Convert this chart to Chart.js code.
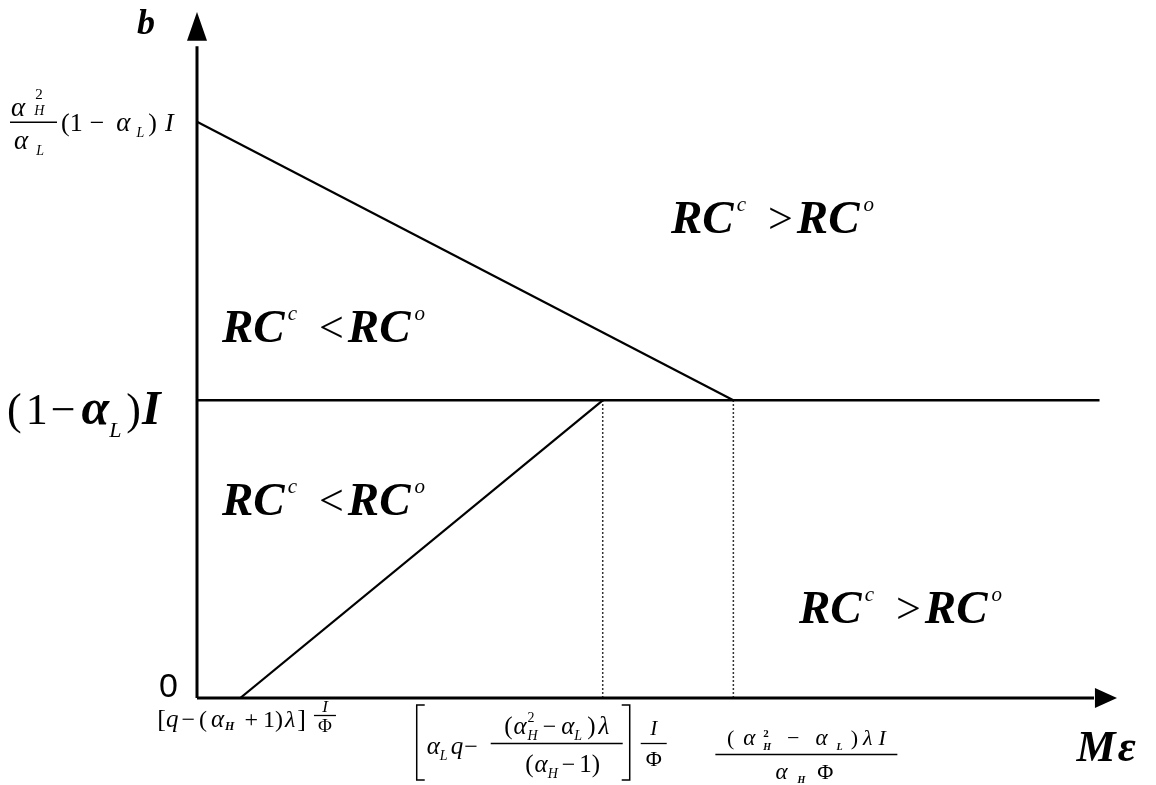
<!DOCTYPE html>
<html>
<head>
<meta charset="utf-8">
<script src="https://cdn.jsdelivr.net/npm/chart.js@4.4.0/dist/chart.umd.min.js"></script>
<style>
  html, body { margin: 0; padding: 0; background: #fff; }
  #wrap { width: 1156px; height: 785px; position: relative; }
</style>
</head>
<body>
<div id="wrap"><canvas id="diagram"></canvas></div>
<script>
// Diagram values (abstract units, x: 0..100, y: 0..100)
const upperLineX = [0, 58.3];     // from top intercept down to the second threshold
const upperLineY = [84, 43.4];
const lowerLineX = [4.7, 44.1];   // from x-intercept up to the first threshold
const lowerLineY = [0, 43.4];
const levelX = [0, 98.1];         // horizontal (1 - aL)I line
const levelY = [43.4, 43.4];
const guideX = [44.1, 58.3];      // dotted drop lines

// where the tick labels sit
const xTickValues = [4.7, 44.1, 58.3];
const yTickValues = [0, 43.4, 84];

const SERIF = '"Liberation Serif", "Times New Roman", serif';

function pts(xs, ys) {
  return xs.map((x, i) => ({ x: x, y: ys[i] }));
}

// draw a run of text pieces: {t, s (size), st (style), dx, dy, gap, hold}
function runText(ctx, x, y, parts, measureOnly) {
  let cx = x;
  for (const p of parts) {
    ctx.font = `${p.st || 'normal'} ${p.s}px ${SERIF}`;
    const w = ctx.measureText(p.t).width;
    const dx = p.dx || 0;
    if (!measureOnly) ctx.fillText(p.t, cx + dx, y + (p.dy || 0));
    if (!p.hold) cx += w + dx + (p.gap || 0);
  }
  return cx - x;
}

function centred(ctx, cx, y, parts) {
  const w = runText(ctx, 0, 0, parts, true);
  runText(ctx, cx - w / 2, y, parts);
}

function bar(ctx, x1, x2, y) {
  ctx.beginPath();
  ctx.moveTo(x1, y + 0.5);
  ctx.lineTo(x2, y + 0.5);
  ctx.lineWidth = 1.3;
  ctx.stroke();
}

function regionLabel(ctx, x, y, op) {
  runText(ctx, x, y, [
    { t: 'RC', s: 47, st: 'bold italic' },
    { t: 'c', s: 21, st: 'italic', dy: -22, gap: 22, dx: 3 },
    { t: op, s: 44 },
    { t: 'RC', s: 47, st: 'bold italic', dx: 4 },
    { t: 'o', s: 21, st: 'italic', dy: -22, dx: 4 }
  ]);
}

const axesAndLabels = {
  id: 'axesAndLabels',
  afterDraw(chart) {
    const ctx = chart.ctx;
    const xs = chart.scales.x, ys = chart.scales.y;
    const x0 = xs.getPixelForValue(0), y0 = ys.getPixelForValue(0);
    ctx.save();
    ctx.strokeStyle = '#000';
    ctx.fillStyle = '#000';

    // axes
    ctx.lineWidth = 3;
    ctx.beginPath();
    ctx.moveTo(x0, y0);
    ctx.lineTo(x0, ys.getPixelForValue(95));
    ctx.moveTo(x0, y0);
    ctx.lineTo(xs.getPixelForValue(97.5), y0);
    ctx.stroke();
    // arrow heads
    const yTip = ys.getPixelForValue(100), yBase = ys.getPixelForValue(95.8);
    ctx.beginPath();
    ctx.moveTo(x0, yTip);
    ctx.lineTo(x0 - 10, yBase);
    ctx.lineTo(x0 + 10, yBase);
    ctx.closePath();
    ctx.fill();
    const xTip = xs.getPixelForValue(100), xBase = xs.getPixelForValue(97.6);
    ctx.beginPath();
    ctx.moveTo(xTip, y0);
    ctx.lineTo(xBase, y0 - 10);
    ctx.lineTo(xBase, y0 + 10);
    ctx.closePath();
    ctx.fill();

    ctx.textBaseline = 'alphabetic';
    ctx.textAlign = 'left';

    // axis titles
    ctx.font = `bold italic 36px ${SERIF}`;
    ctx.fillText('b', x0 - 60, yTip + 22);
    runText(ctx, xs.getPixelForValue(95.6), y0 + 63, [
      { t: 'M', s: 44, st: 'bold italic' },
      { t: '\u03b5', s: 44, st: 'bold italic', dx: 2 }
    ]);

    // y tick labels
    ctx.font = '34px "Liberation Sans", Arial, sans-serif';
    ctx.fillText('0', x0 - 38, ys.getPixelForValue(yTickValues[0]) - 1);

    const yLev = ys.getPixelForValue(yTickValues[1]);
    runText(ctx, 7, yLev + 24, [
      { t: '(', s: 44, gap: 4 },
      { t: '1', s: 44, gap: 3 },
      { t: '\u2212', s: 44, gap: 6 },
      { t: '\u03b1', s: 50, st: 'bold italic' },
      { t: 'L', s: 22, st: 'italic', dy: 13, gap: 5 },
      { t: ')', s: 44, gap: 1 },
      { t: 'I', s: 48, st: 'bold italic' }
    ]);

    const yTop = ys.getPixelForValue(yTickValues[2]);
    runText(ctx, 11, yTop - 6, [
      { t: '\u03b1', s: 27, st: 'italic' },
      { t: '2', s: 15, dy: -17, hold: true, dx: 10 },
      { t: 'H', s: 14, st: 'italic', dy: -1, dx: 9 }
    ]);
    bar(ctx, 10, 57, yTop);
    runText(ctx, 14, yTop + 27, [
      { t: '\u03b1', s: 27, st: 'italic' },
      { t: 'L', s: 14, st: 'italic', dy: 6, dx: 8 }
    ]);
    runText(ctx, 61, yTop + 9, [
      { t: '(1', s: 26, gap: 7 },
      { t: '\u2212', s: 26, gap: 12 },
      { t: '\u03b1', s: 27, st: 'italic' },
      { t: 'L', s: 14, st: 'italic', dy: 6, dx: 6, gap: 4 },
      { t: ')', s: 26, gap: 8 },
      { t: 'I', s: 26, st: 'italic' }
    ]);

    // x tick label 1
    const xa = xs.getPixelForValue(xTickValues[0]);
    const baseA = y0 + 29;
    const wA = runText(ctx, xa - 83, baseA, [
      { t: '[', s: 26 },
      { t: 'q', s: 25, st: 'italic', gap: 3 },
      { t: '\u2212', s: 24, gap: 4 },
      { t: '(', s: 24, gap: 4 },
      { t: '\u03b1', s: 25, st: 'italic' },
      { t: 'H', s: 12, st: 'bold italic', dy: 3, dx: 1, gap: 10 },
      { t: '+', s: 24, gap: 5 },
      { t: '1)', s: 24, gap: 1 },
      { t: '\u03bb', s: 24, st: 'italic', dx: 1, gap: 2 },
      { t: ']', s: 26 }
    ]);
    const fa = xa - 83 + wA + 19;
    centred(ctx, fa, y0 + 14, [{ t: 'I', s: 17, st: 'italic' }]);
    bar(ctx, fa - 11, fa + 11, y0 + 17);
    centred(ctx, fa, y0 + 34, [{ t: '\u03a6', s: 19 }]);

    // x tick label 2 (big brackets)
    const xb = xs.getPixelForValue(xTickValues[1]);
    const lb = xb - 186, rb = xb + 27;
    ctx.lineWidth = 1.5;
    ctx.beginPath();
    ctx.moveTo(lb + 8, y0 + 7); ctx.lineTo(lb, y0 + 7); ctx.lineTo(lb, y0 + 82); ctx.lineTo(lb + 8, y0 + 82);
    ctx.moveTo(rb - 8, y0 + 7); ctx.lineTo(rb, y0 + 7); ctx.lineTo(rb, y0 + 82); ctx.lineTo(rb - 8, y0 + 82);
    ctx.stroke();
    runText(ctx, lb + 10, y0 + 56, [
      { t: '\u03b1', s: 25, st: 'italic' },
      { t: 'L', s: 14, st: 'italic', dy: 6, gap: 2 },
      { t: 'q', s: 25, st: 'italic', dx: 1 },
      { t: '\u2212', s: 24, dx: 1 }
    ]);
    const nb = xb - 46;
    centred(ctx, nb, y0 + 36, [
      { t: '(', s: 25, gap: 1 },
      { t: '\u03b1', s: 25, st: 'italic' },
      { t: '2', s: 14, dy: -12, hold: true, dx: 1 },
      { t: 'H', s: 14, st: 'italic', dy: 6, dx: 1, gap: 5 },
      { t: '\u2212', s: 24, gap: 5 },
      { t: '\u03b1', s: 25, st: 'italic' },
      { t: 'L', s: 14, st: 'italic', dy: 6, gap: 5 },
      { t: ')', s: 25, gap: 3 },
      { t: '\u03bb', s: 25, st: 'italic' }
    ]);
    bar(ctx, nb - 66, nb + 66, y0 + 45);
    centred(ctx, nb + 6, y0 + 74, [
      { t: '(', s: 25, gap: 1 },
      { t: '\u03b1', s: 25, st: 'italic' },
      { t: 'H', s: 14, st: 'italic', dy: 6, gap: 4 },
      { t: '\u2212', s: 24, gap: 4 },
      { t: '1)', s: 25 }
    ]);
    const fb = rb + 24;
    centred(ctx, fb, y0 + 37, [{ t: 'I', s: 21, st: 'italic' }]);
    bar(ctx, fb - 13, fb + 13, y0 + 45);
    centred(ctx, fb, y0 + 68, [{ t: '\u03a6', s: 22 }]);

    // x tick label 3
    const xc = xs.getPixelForValue(xTickValues[2]);
    const cc = xc + 73;
    centred(ctx, cc, y0 + 47, [
      { t: '(', s: 22, gap: 9 },
      { t: '\u03b1', s: 23, st: 'italic', gap: 7 },
      { t: '2', s: 11, st: 'bold', dy: -8, hold: true, dx: 1 },
      { t: 'H', s: 10, st: 'bold italic', dy: 5, dx: 1, gap: 16 },
      { t: '\u2212', s: 22, gap: 16 },
      { t: '\u03b1', s: 23, st: 'italic', gap: 9 },
      { t: 'L', s: 10, st: 'bold italic', dy: 5, gap: 8 },
      { t: ')', s: 22, gap: 5 },
      { t: '\u03bb', s: 22, st: 'italic', gap: 6 },
      { t: 'I', s: 22, st: 'italic' }
    ]);
    bar(ctx, cc - 91, cc + 91, y0 + 56);
    centred(ctx, cc - 2, y0 + 81, [
      { t: '\u03b1', s: 23, st: 'italic', gap: 10 },
      { t: 'H', s: 10, st: 'bold italic', dy: 4, gap: 12 },
      { t: '\u03a6', s: 22 }
    ]);

    // region labels
    regionLabel(ctx, 671, 233, '>');
    regionLabel(ctx, 222, 342, '<');
    regionLabel(ctx, 222, 515, '<');
    regionLabel(ctx, 799, 623, '>');

    ctx.restore();
  }
};

new Chart(document.getElementById('diagram').getContext('2d'), {
  type: 'scatter',
  data: {
    datasets: [
      {
        data: pts(upperLineX, upperLineY),
        showLine: true, borderColor: '#000', borderWidth: 2.2, pointRadius: 0
      },
      {
        data: pts(levelX, levelY),
        showLine: true, borderColor: '#000', borderWidth: 2.4, pointRadius: 0
      },
      {
        data: pts(lowerLineX, lowerLineY),
        showLine: true, borderColor: '#000', borderWidth: 2.2, pointRadius: 0
      },
      {
        data: pts([guideX[0], guideX[0]], [0, levelY[0]]),
        showLine: true, borderColor: '#333', borderWidth: 1.5, borderDash: [2, 2], pointRadius: 0
      },
      {
        data: pts([guideX[1], guideX[1]], [0, levelY[0]]),
        showLine: true, borderColor: '#333', borderWidth: 1.5, borderDash: [2, 2], pointRadius: 0
      }
    ]
  },
  options: {
    responsive: true,
    maintainAspectRatio: false,
    animation: false,
    layout: {
      padding: { left: 197, right: 39, top: 12, bottom: 87 }
    },
    plugins: {
      legend: { display: false },
      tooltip: { enabled: false }
    },
    scales: {
      x: { type: 'linear', min: 0, max: 100, display: false },
      y: { type: 'linear', min: 0, max: 100, display: false }
    }
  },
  plugins: [axesAndLabels]
});
</script>
</body>
</html>
